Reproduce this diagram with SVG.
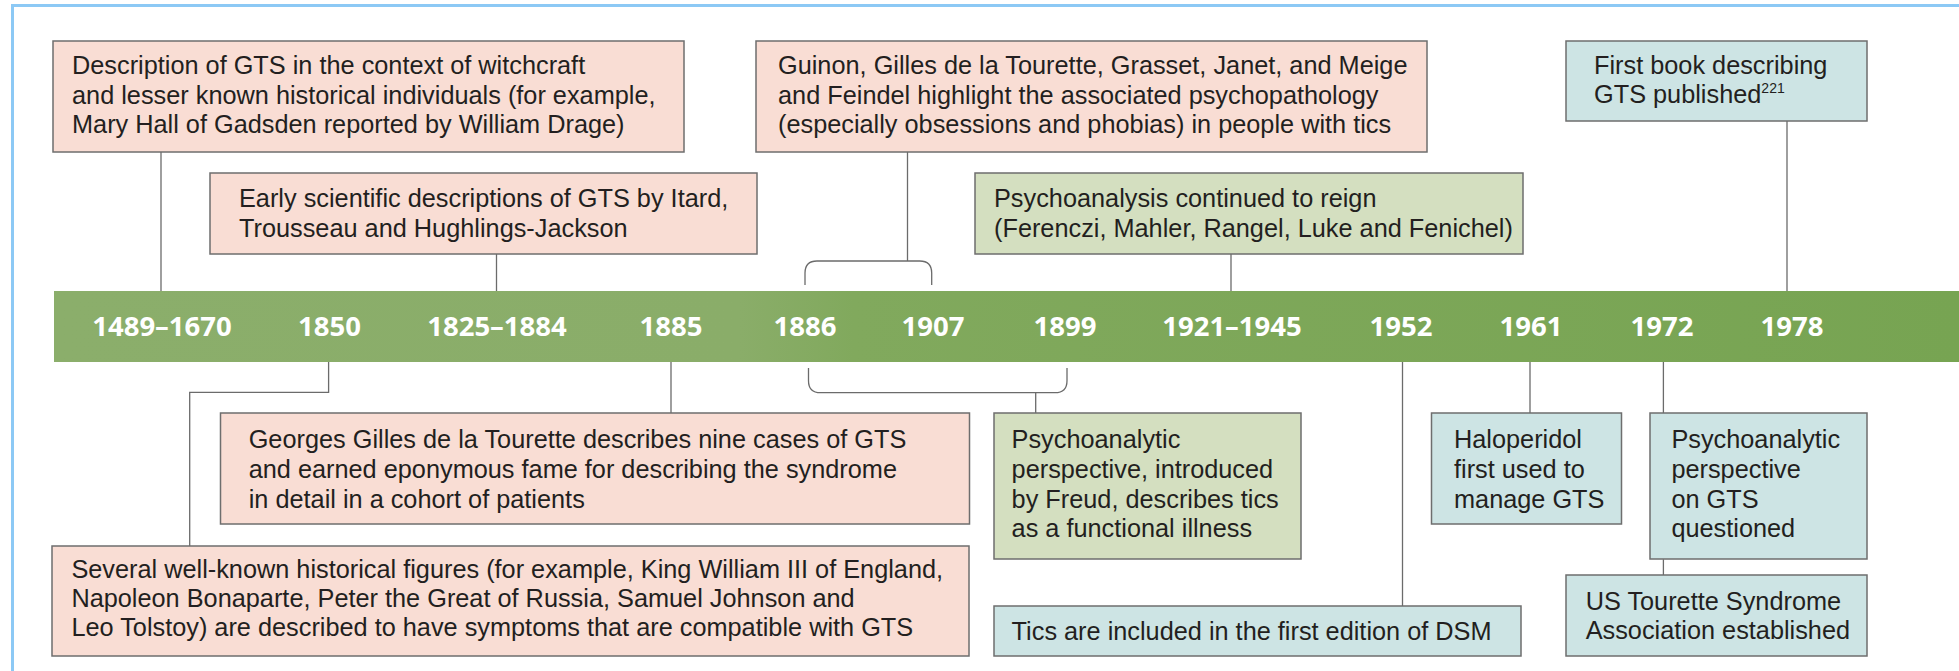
<svg xmlns="http://www.w3.org/2000/svg" width="1959" height="671" viewBox="0 0 1959 671">
<defs>
<linearGradient id="barGrad" x1="0" y1="0" x2="1" y2="0">
<stop offset="0" stop-color="#8bae6b"/>
<stop offset="0.36" stop-color="#8aad69"/>
<stop offset="0.42" stop-color="#81a95d"/>
<stop offset="1" stop-color="#77a452"/>
</linearGradient>
<style>
.box{stroke:#6e6e6e;stroke-width:1.5}
.pink{fill:#f9ddd4}
.green{fill:#d4dfc0}
.blue{fill:#cde4e4}
.t{font-family:"Liberation Sans",Arial,sans-serif;font-size:25.3px;fill:#231f20}
.yr{font-family:"Open Sans","Liberation Sans",sans-serif;font-size:27.5px;font-weight:700;fill:#ffffff;text-anchor:middle}
.sup{font-family:"Liberation Sans",Arial,sans-serif;font-size:14px;fill:#231f20}
.con{fill:none;stroke:#6b6b6b;stroke-width:1.3}
.frame{stroke:#8cc9f5;stroke-width:3;fill:none}
</style>
</defs>
<rect width="1959" height="671" fill="#ffffff"/>
<g id="frame">
<path class="frame" d="M12.5 671 V5.5 H1959"/>
</g>
<g id="timeline">
<rect x="54" y="291" width="1905" height="71" fill="url(#barGrad)"/>
<text class="yr" x="162" y="336">1489–1670</text>
<text class="yr" x="329.5" y="336">1850</text>
<text class="yr" x="497" y="336">1825–1884</text>
<text class="yr" x="671" y="336">1885</text>
<text class="yr" x="805" y="336">1886</text>
<text class="yr" x="933" y="336">1907</text>
<text class="yr" x="1065" y="336">1899</text>
<text class="yr" x="1232" y="336">1921–1945</text>
<text class="yr" x="1401" y="336">1952</text>
<text class="yr" x="1531" y="336">1961</text>
<text class="yr" x="1662" y="336">1972</text>
<text class="yr" x="1792" y="336">1978</text>
</g>
<g id="connectors">
<path class="con" d="M161 152 V291"/>
<path class="con" d="M496.5 254 V291"/>
<path class="con" d="M907.5 152 V261"/>
<path class="con" d="M805 285 V273 Q805 261 817 261 H919.7 Q931.7 261 931.7 273 V285"/>
<path class="con" d="M1231 254 V291"/>
<path class="con" d="M1787 121 V291"/>
<path class="con" d="M328.6 362 V392.3 H189.7 V546"/>
<path class="con" d="M671 362 V413"/>
<path class="con" d="M808.5 368 V380.7 Q808.5 392.7 820.5 392.7 H1055 Q1067 392.7 1067 380.7 V368"/>
<path class="con" d="M1035.7 392.7 V413"/>
<path class="con" d="M1402.5 362 V606"/>
<path class="con" d="M1530 362 V413"/>
<path class="con" d="M1663.4 362 V413"/>
<path class="con" d="M1663.4 559.3 V575"/>
</g>
<g id="node-witchcraft">
<rect class="box pink" x="53" y="41" width="631" height="111"/>
<text class="t" x="72" y="74">Description of GTS in the context of witchcraft</text>
<text class="t" x="72" y="103.5">and lesser known historical individuals (for example,</text>
<text class="t" x="72" y="133">Mary Hall of Gadsden reported by William Drage)</text>
</g>
<g id="node-early">
<rect class="box pink" x="210" y="173" width="547" height="81"/>
<text class="t" x="239" y="207">Early scientific descriptions of GTS by Itard,</text>
<text class="t" x="239" y="237">Trousseau and Hughlings-Jackson</text>
</g>
<g id="node-guinon">
<rect class="box pink" x="756" y="41" width="671" height="111"/>
<text class="t" x="778" y="74">Guinon, Gilles de la Tourette, Grasset, Janet, and Meige</text>
<text class="t" x="778" y="103.5">and Feindel highlight the associated psychopathology</text>
<text class="t" x="778" y="133">(especially obsessions and phobias) in people with tics</text>
</g>
<g id="node-psychoanalysis-reign">
<rect class="box green" x="975" y="173" width="548" height="81"/>
<text class="t" x="994" y="207">Psychoanalysis continued to reign</text>
<text class="t" x="994" y="237">(Ferenczi, Mahler, Rangel, Luke and Fenichel)</text>
</g>
<g id="node-first-book">
<rect class="box blue" x="1566" y="41" width="301" height="80"/>
<text class="t" x="1594" y="74">First book describing</text>
<text class="t" x="1594" y="103">GTS published<tspan class="sup" dy="-10">221</tspan></text>
</g>
<g id="node-gilles">
<rect class="box pink" x="220.5" y="413" width="749" height="111"/>
<text class="t" x="248.7" y="448">Georges Gilles de la Tourette describes nine cases of GTS</text>
<text class="t" x="248.7" y="478">and earned eponymous fame for describing the syndrome</text>
<text class="t" x="248.7" y="508">in detail in a cohort of patients</text>
</g>
<g id="node-historical">
<rect class="box pink" x="52" y="546" width="917" height="110"/>
<text class="t" x="71.4" y="578">Several well-known historical figures (for example, King William III of England,</text>
<text class="t" x="71.4" y="607">Napoleon Bonaparte, Peter the Great of Russia, Samuel Johnson and</text>
<text class="t" x="71.4" y="636">Leo Tolstoy) are described to have symptoms that are compatible with GTS</text>
</g>
<g id="node-freud">
<rect class="box green" x="994" y="413" width="307" height="146"/>
<text class="t" x="1011.6" y="448">Psychoanalytic</text>
<text class="t" x="1011.6" y="478">perspective, introduced</text>
<text class="t" x="1011.6" y="508">by Freud, describes tics</text>
<text class="t" x="1011.6" y="537">as a functional illness</text>
</g>
<g id="node-dsm">
<rect class="box blue" x="994" y="606" width="527" height="50"/>
<text class="t" x="1011.6" y="640">Tics are included in the first edition of DSM</text>
</g>
<g id="node-haloperidol">
<rect class="box blue" x="1431.5" y="413" width="190" height="111"/>
<text class="t" x="1454" y="448">Haloperidol</text>
<text class="t" x="1454" y="478">first used to</text>
<text class="t" x="1454" y="508">manage GTS</text>
</g>
<g id="node-questioned">
<rect class="box blue" x="1650" y="413" width="217" height="146"/>
<text class="t" x="1671.4" y="448">Psychoanalytic</text>
<text class="t" x="1671.4" y="478">perspective</text>
<text class="t" x="1671.4" y="508">on GTS</text>
<text class="t" x="1671.4" y="537">questioned</text>
</g>
<g id="node-tsa">
<rect class="box blue" x="1566" y="575" width="301" height="81"/>
<text class="t" x="1585.7" y="610">US Tourette Syndrome</text>
<text class="t" x="1585.7" y="639">Association established</text>
</g>
</svg>
